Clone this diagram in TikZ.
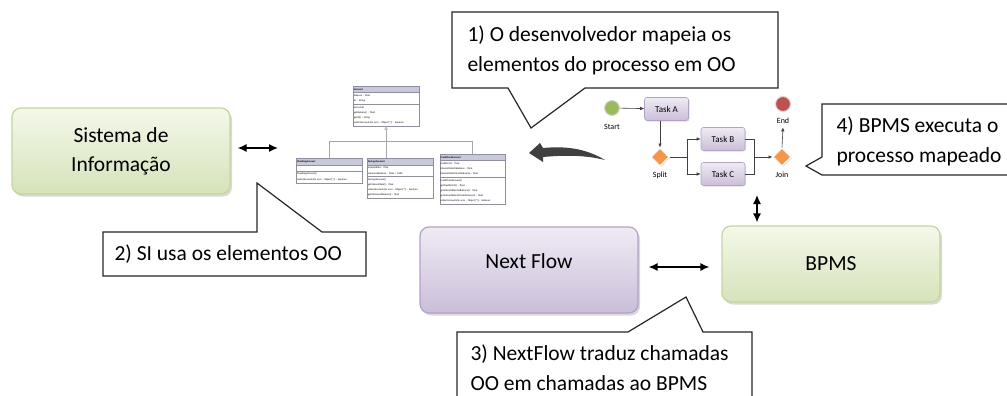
\documentclass[tikz,border=0pt]{standalone}
\usepackage{fontspec}
\setmainfont{Carlito}
\usetikzlibrary{arrows.meta, shapes.geometric, shapes.multipart, shadows, backgrounds}

\definecolor{boxgreen}{HTML}{D5E3B9}
\definecolor{boxgreenlt}{HTML}{F4F8EA}
\definecolor{greenline}{HTML}{C3D69B}
\definecolor{boxpurple}{HTML}{CABED9}
\definecolor{boxpurplelt}{HTML}{EFEBF4}
\definecolor{purpleline}{HTML}{B3A2C7}
\definecolor{umlhead}{HTML}{C9C9DC}
\definecolor{umlline}{HTML}{8F8FA3}
\definecolor{startgreen}{HTML}{9BBB59}
\definecolor{endred}{HTML}{C0504D}
\definecolor{gworange}{HTML}{F79646}
\definecolor{bigarrow}{HTML}{404040}

\tikzset{
  bigbox/.style={rectangle, rounded corners=9pt, minimum width=218pt, line width=1.2pt,
    align=center, font=\fontsize{21.5}{29}\selectfont,
    drop shadow={opacity=0.3, shadow xshift=2pt, shadow yshift=-2.5pt}},
  greenbox/.style={bigbox, draw=greenline, top color=boxgreenlt, bottom color=boxgreen},
  purplebox/.style={bigbox, draw=purpleline, top color=boxpurplelt, bottom color=boxpurple},
  umlclass/.style={rectangle split, rectangle split parts=3, draw=umlline, line width=0.4pt,
    text width=64pt, inner xsep=0.8pt, inner ysep=2pt, anchor=north, font=\fontsize{2.6}{5.2}\selectfont},
  inherit/.style={draw=black!35, line width=0.6pt},
  task/.style={rectangle, rounded corners=2.5pt, draw=purpleline, line width=0.6pt,
    top color=boxpurplelt, bottom color=boxpurple, minimum width=44pt, minimum height=23pt,
    font=\fontsize{9}{10}\selectfont,
    drop shadow={opacity=0.25, shadow xshift=1pt, shadow yshift=-1pt}},
  gw/.style={diamond, fill=gworange, draw=white, line width=1pt, minimum size=18pt, inner sep=0pt,
    drop shadow={opacity=0.25, shadow xshift=1pt, shadow yshift=-1pt}},
  evt/.style={circle, minimum size=15pt, inner sep=0pt, draw=black!15, line width=1pt},
  flow/.style={-{Latex[length=4pt,width=3.5pt]}, line width=0.6pt, draw=black!75},
  flowline/.style={line width=0.6pt, draw=black!75},
  lbl/.style={font=\fontsize{8}{9}\selectfont},
  dblarrow/.style={{Latex[length=9pt,width=8pt]}-{Latex[length=9pt,width=8pt]}, line width=1.3pt},
  callout/.style={draw=black!85, line width=1.2pt, fill=white},
  calltext/.style={align=left, anchor=west, font=\fontsize{21.5}{30}\selectfont}
}

\begin{document}
\begin{tikzpicture}[x=1pt, y=-1pt]
    \useasboundingbox (0,0) rectangle (1007,396);

    % main boxes
    \node[greenbox, minimum height=86pt] (sis) at (121,151) {Sistema de\\Informação};
    \node[purplebox, minimum height=86pt, text depth=18pt] (nf) at (529,270) {Next Flow};
    \node[greenbox, minimum height=76pt] (bpms) at (831,264) {BPMS};

    % class diagram
    \node[umlclass] (acc) at (386,86) {\centering\textbf{Account}
        \nodepart{second} balance : float\\ id : String
        \nodepart{third} Account()\\ getBalance() : float\\ getId() : String\\ collectAccounts(in accs : Object[*]) : boolean};
    \node[umlclass] (chk) at (329,158) {\centering\textbf{CheckingAccount}
        \nodepart{second}\rule{0pt}{1.5pt}
        \nodepart{third} CheckingAccount()\\ collectAccounts(in accs : Object[*]) : boolean};
    \node[umlclass] (sav) at (400,158) {\centering\textbf{SavingsAccount}
        \nodepart{second} interestRate : float\\ minimumBalance : float = 1000
        \nodepart{third} SavingsAccount()\\ getInterestRate() : float\\ collectAccounts(in accs : Object[*]) : boolean\\ getMinimumBalance() : float};
    \node[umlclass] (cca) at (472.5,154) {\centering\textbf{CreditCardAccount}
        \nodepart{second} creditLimit : float\\ interestRateOnBalance : float\\ interestRateOnCashAdvance : float
        \nodepart{third} CreditCardAccount()\\ getCreditLimit() : float\\ getInterestRateOnBalance() : float\\ getInterestRateOnCashAdvance() : float\\ collectAccounts(in accs : Object[*]) : boolean};
    \begin{scope}[on background layer]
        \foreach \cls in {acc,chk,sav,cca}
            \fill[umlhead] (\cls.north west) rectangle (\cls.one split east);
    \end{scope}

    \coordinate (bus) at (0,141);
    \draw[inherit] (chk.north) -- (chk.north |- bus) -- (cca.north |- bus) -- (cca.north);
    \draw[inherit, -{Triangle[open, length=3pt, width=3.5pt]}] (acc.south |- sav.north) -- (acc.south);

    % curved arrow
    \fill[bigarrow] (605,160) .. controls (585,148) and (565,146) .. (543,148)
        -- (540,143) -- (529,153) -- (543,162) -- (543,157)
        .. controls (565,155) and (585,155) .. (605,160) -- cycle;

    % process
    \node[evt, fill=startgreen] (start) at (612,108) {};
    \node[lbl] (startlbl) at (612,127) {Start};
    \node[task] (taskA) at (666.5,109) {Task A};
    \node[gw] (split) at (660,157) {};
    \node[lbl] (splitlbl) at (660,175) {Split};
    \node[task] (taskB) at (723,139) {Task B};
    \node[task] (taskC) at (723,174) {Task C};
    \node[gw] (join) at (782,157) {};
    \node[lbl] (joinlbl) at (782,175) {Join};
    \node[evt, fill=endred] (end) at (783,104) {};
    \node[lbl] (endlbl) at (783,121) {End};

    \coordinate (fork) at (687,157);
    \coordinate (merge) at (754,157);
    \draw[flow] (start) -- (taskA);
    \draw[flow] (taskA.south -| split) -- (split.north);
    \draw[flowline] (split.east) -- (fork);
    \draw[flow] (fork) |- (taskB.west);
    \draw[flow] (fork) |- (taskC.west);
    \draw[flowline] (taskB.east) -| (merge);
    \draw[flow] (taskC.east) -| (merge) -- (join.west);
    \draw[flow] (join.north) -- (endlbl.south);

    % double arrows
    \coordinate (umlin) at (278,148);
    \draw[dblarrow, shorten <=7pt] (sis.east |- umlin) -- (umlin);
    \coordinate (mid) at (680,267);
    \draw[dblarrow, shorten <=10pt, shorten >=12pt] (nf.east |- mid) -- (bpms.west |- mid);
    \coordinate (procout) at (757,195);
    \draw[dblarrow, shorten >=3pt] (procout) -- (procout |- bpms.north);

    % callouts
    \draw[callout] (452,12) -- (778,12) -- (778,88) -- (585,88) -- (531,128) -- (508,88) -- (452,88) -- cycle;
    \node[calltext] (c1) at (464,50) {1) O desenvolvedor mapeia os\\elementos do processo em OO};

    \draw[callout] (103,232) -- (257,232) -- (257,183) -- (322,232) -- (366,232) -- (366,276) -- (103,276) -- cycle;
    \node[calltext] (c2) at (111,254) {2) SI usa os elementos OO};

    \draw[callout] (457,402) -- (457,332) -- (628,332) -- (686,297) -- (703,332) -- (752,332) -- (752,402);
    \node[calltext] (c3) at (467,368) {3) NextFlow traduz chamadas\\OO em chamadas ao BPMS};

    \draw[callout] (1012,104) -- (822,104) -- (822,157) -- (806,166) -- (822,175) -- (1012,175);
    \node[calltext] (c4) at (833,141) {4) BPMS executa o\\processo mapeado};
\end{tikzpicture}
\end{document}
